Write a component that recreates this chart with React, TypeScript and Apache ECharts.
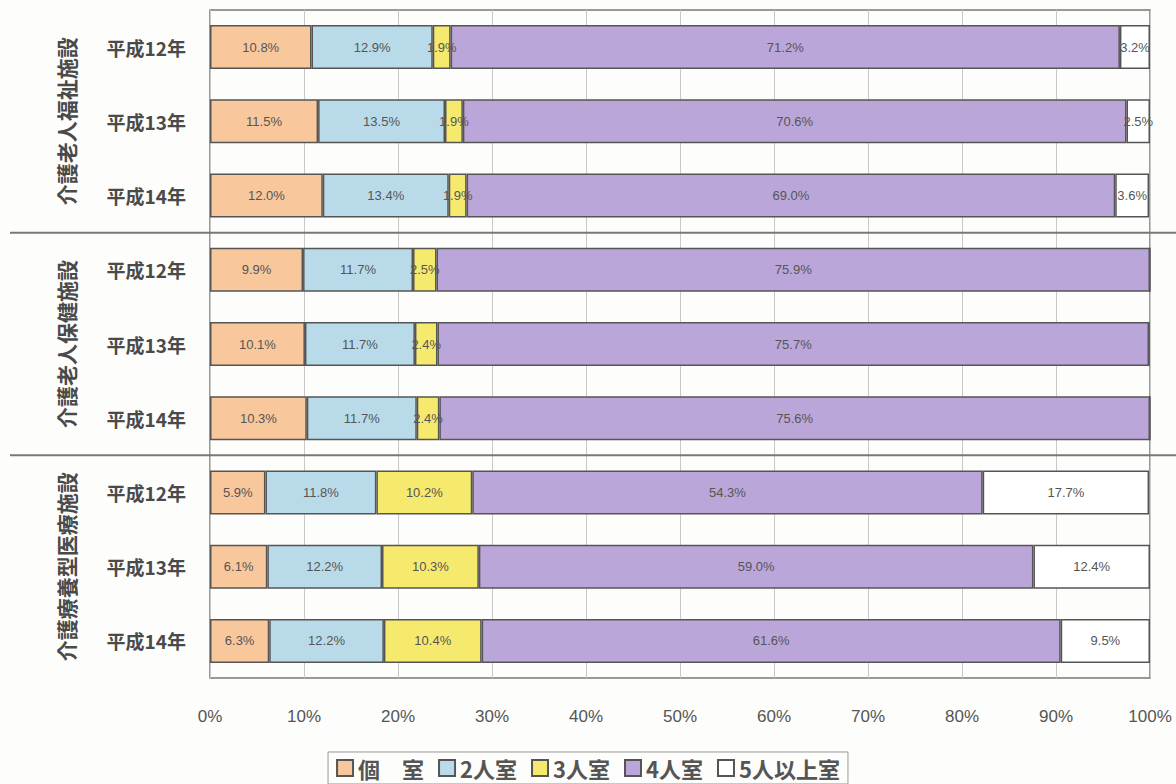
import React, { useEffect, useRef } from "react";
import * as echarts from "echarts";

const categories = [
  "福祉|平成12年", "福祉|平成13年", "福祉|平成14年",
  "保健|平成12年", "保健|平成13年", "保健|平成14年",
  "療養|平成12年", "療養|平成13年", "療養|平成14年",
];
const groupLabels = ["介護老人福祉施設", "介護老人保健施設", "介護療養型医療施設"];
const seriesNames = ["個　室", "2人室", "3人室", "4人室", "5人以上室"];
const single = [10.8, 11.5, 12.0, 9.9, 10.1, 10.3, 5.9, 6.1, 6.3];
const double = [12.9, 13.5, 13.4, 11.7, 11.7, 11.7, 11.8, 12.2, 12.2];
const triple = [1.9, 1.9, 1.9, 2.5, 2.4, 2.4, 10.2, 10.3, 10.4];
const quad = [71.2, 70.6, 69.0, 75.9, 75.7, 75.6, 54.3, 59.0, 61.6];
const fivePlus = [3.2, 2.5, 3.6, 0, 0, 0, 17.7, 12.4, 9.5];
const xTicks = [0, 10, 20, 30, 40, 50, 60, 70, 80, 90, 100];

const colors = ["#f8c79c", "#b9dbe9", "#f6ea6e", "#bba6da", "#ffffff"];

export default function App() {
  const ref = useRef<HTMLDivElement>(null);
  useEffect(() => {
    if (!ref.current) return;
    const chart = echarts.init(ref.current, null, { renderer: "svg" });
    const values = [single, double, triple, quad, fivePlus];
    const gridTop = 10;
    const gridBottom = 106;
    const plotH = 784 - gridTop - gridBottom;
    const rowH = plotH / categories.length;
    chart.setOption({
      animation: false,
      backgroundColor: "#fdfdfb",
      grid: {
        left: 210,
        right: 26,
        top: gridTop,
        bottom: gridBottom,
        show: true,
        borderColor: "#777",
        borderWidth: 1.5,
        backgroundColor: "transparent",
      },
      xAxis: {
        type: "value",
        min: 0,
        max: 100,
        interval: 10,
        axisLine: { show: false },
        axisTick: { show: false },
        splitLine: { show: true, lineStyle: { color: "#c8c8c8", width: 1 } },
        axisLabel: {
          formatter: (v: number) => (xTicks.includes(v) ? v + "%" : ""),
          color: "#555",
          fontSize: 17,
          margin: 30,
          fontFamily: "Liberation Sans Narrow, Liberation Sans, sans-serif",
        },
      },
      yAxis: {
        type: "category",
        inverse: true,
        data: categories,
        axisLine: { show: false },
        axisTick: { show: false },
        axisLabel: {
          formatter: (v: string) => v.split("|")[1],
          color: "#4a4a4a",
          fontSize: 19,
          fontWeight: "bold",
          margin: 24,
          fontFamily: "Noto Sans CJK JP, sans-serif",
        },
      },
      legend: {
        bottom: 0,
        left: "center",
        itemWidth: 16,
        itemHeight: 16,
        itemGap: 14,
        padding: [5, 8],
        borderColor: "#999",
        borderWidth: 1,
        icon: "rect",
        textStyle: {
          fontSize: 22,
          fontWeight: "bold",
          color: "#555",
          fontFamily: "Noto Sans CJK JP, sans-serif",
        },
        data: seriesNames,
      },
      series: seriesNames.map((name, i) => ({
        name,
        type: "bar",
        stack: "total",
        barWidth: 44,
        data: values[i],
        itemStyle: { color: colors[i], borderColor: "#555", borderWidth: 1.5 },
        label: {
          show: true,
          position: "inside",
          formatter: (p: any) => (p.value > 0 ? Number(p.value).toFixed(1) + "%" : ""),
          color: "#555",
          fontSize: 13,
          fontFamily: "Liberation Sans Narrow, Liberation Sans, sans-serif",
        },
      })),
      graphic: [
        ...[3, 6].map((k) => ({
          type: "line",
          shape: { x1: 10, y1: gridTop + rowH * k, x2: 1176, y2: gridTop + rowH * k },
          style: { stroke: "#777", lineWidth: 2 },
          z: 10,
        })),
        ...groupLabels.map((t, g) => ({
          type: "text",
          x: 66,
          y: gridTop + rowH * (g * 3 + 1.5),
          rotation: Math.PI / 2,
          style: {
            text: t,
            fill: "#4a4a4a",
            font: "bold 21px 'Noto Sans CJK JP', sans-serif",
            textAlign: "center",
            textVerticalAlign: "middle",
          },
        })),
      ],
    });
    return () => chart.dispose();
  }, []);
  return (
    <div
      ref={ref}
      style={{ position: "fixed", left: 0, top: 0, width: 1176, height: 784 }}
    />
  );
}
